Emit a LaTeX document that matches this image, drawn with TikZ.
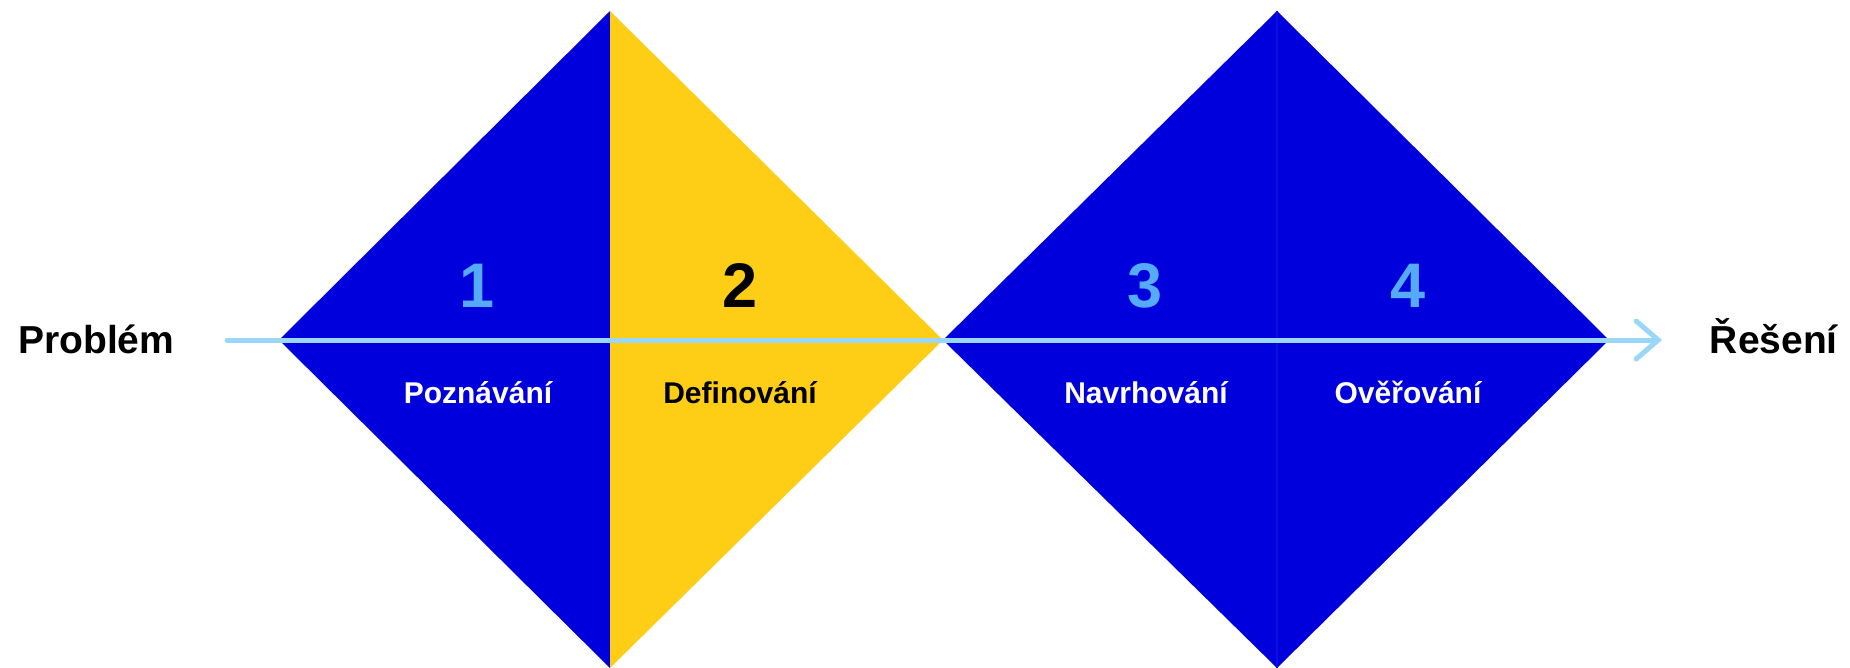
\documentclass[tikz,border=0pt]{standalone}
\usepackage{fontspec}
\setmainfont{Liberation Sans}
\usetikzlibrary{arrows.meta}
\definecolor{dblue}{RGB}{0,0,220}
\definecolor{dyellow}{RGB}{254,206,22}
\definecolor{numblue}{RGB}{85,170,250}
\definecolor{axis}{RGB}{153,214,248}
\definecolor{sep}{RGB}{10,14,226}
\begin{document}
\begin{tikzpicture}[x=1pt,y=-1pt,
  endtxt/.style={font=\bfseries\fontsize{39}{39}\selectfont, text=black, inner sep=0pt},
  numtxt/.style={font=\bfseries\fontsize{63}{63}\selectfont, inner sep=0pt, anchor=base},
  labtxt/.style={font=\bfseries\fontsize{30}{30}\selectfont, inner sep=0pt, anchor=base},
  axisline/.style={draw=axis, line width=5pt, line cap=round, -{Straight Barb[length=22pt,width=38pt,line cap=round]}}
]
\useasboundingbox (0,0) rectangle (1850,667);
% diamond 1
\coordinate (d1l) at (279,340);
\coordinate (d1t) at (610,11);
\coordinate (d1b) at (610,668);
\coordinate (d1r) at (943,340);
% diamond 2
\coordinate (d2t) at (1277,11);
\coordinate (d2b) at (1277,668);
\coordinate (d2r) at (1609,340);
\fill[dblue] (d1l) -- (d1t) -- (d1b) -- cycle;
\fill[dyellow] (d1t) -- (d1r) -- (d1b) -- cycle;
\fill[dblue] (d1r) -- (d2t) -- (d2b) -- cycle;
\fill[dblue] (d2t) -- (d2r) -- (d2b) -- cycle;
\draw[sep, line width=1.5pt] (d2t) -- (d2b);
% axis
\coordinate (astart) at (227,340);
\coordinate (aend) at (1662,340);
\draw[axisline] (astart) -- (aend);
% end labels
\node[endtxt, anchor=base west] (prob) at (18,353) {Problém};
\node[endtxt, anchor=base east] (res) at (1838,353) {Řešení};
% numbers
\node[numtxt, text=numblue] (n1) at (477,307) {1};
\node[numtxt, text=black] (n2) at (740,307) {2};
\node[numtxt, text=numblue] (n3) at (1145,307) {3};
\node[numtxt, text=numblue] (n4) at (1408,307) {4};
% labels
\node[labtxt, text=white] (l1) at (478,403) {Poznávání};
\node[labtxt, text=black] (l2) at (740,403) {Definování};
\node[labtxt, text=white] (l3) at (1146,403) {Navrhování};
\node[labtxt, text=white] (l4) at (1408,403) {Ověřování};
\end{tikzpicture}
\end{document}
